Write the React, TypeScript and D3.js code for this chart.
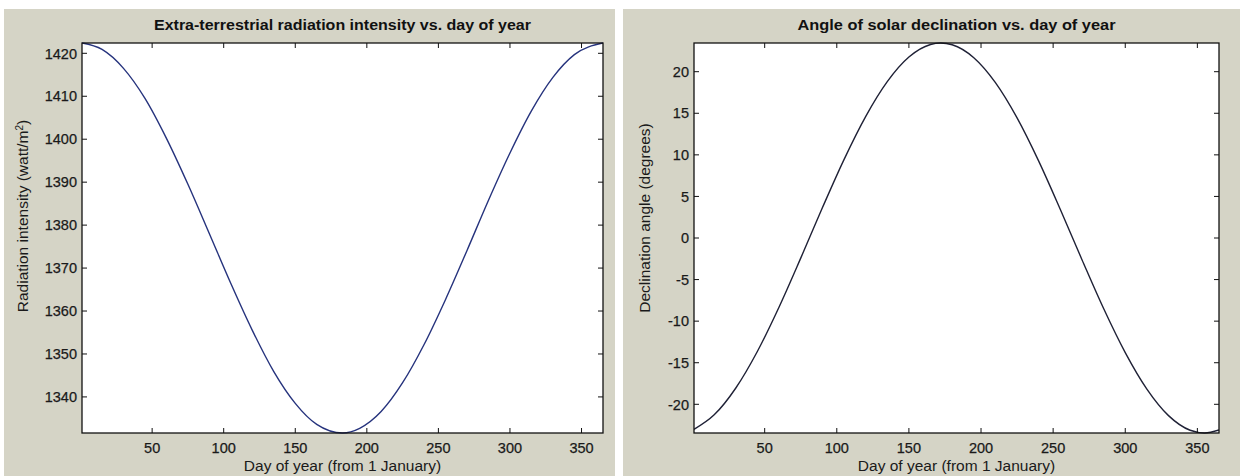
import React from "react";
import * as d3 from "d3";

// Day-of-year samples and the values
const radDays = [1, 15, 30, 45, 60, 75, 90, 105, 120, 135, 150, 165, 183, 195, 210, 225, 240, 255, 270, 285, 300, 315, 330, 345, 365];
const radiation = [1422.4, 1420.9, 1416.5, 1409.5, 1400.2, 1389.5, 1378.0, 1366.4, 1355.5, 1345.9, 1338.5, 1333.6, 1331.6, 1332.7, 1336.6, 1343.3, 1352.2, 1362.7, 1374.1, 1385.8, 1396.8, 1406.6, 1414.4, 1419.7, 1422.4];

const declDays = [1, 15, 30, 45, 60, 75, 90, 105, 120, 135, 150, 165, 172, 180, 195, 210, 225, 240, 255, 270, 285, 300, 315, 330, 345, 355, 365];
const declination = [-23.01, -21.27, -18.04, -13.62, -8.29, -2.42, 3.63, 9.43, 14.6, 18.8, 21.76, 23.27, 23.45, 23.24, 21.68, 18.68, 14.44, 9.24, 3.42, -2.61, -8.48, -13.78, -18.17, -21.36, -23.12, -23.45, -23.09];

const dayTicks = [50, 100, 150, 200, 250, 300, 350];
const radTicks = [1340, 1350, 1360, 1370, 1380, 1390, 1400, 1410, 1420];
const declTicks = [-20, -15, -10, -5, 0, 5, 10, 15, 20];

const FONT = "'Liberation Sans', Arial, Helvetica, sans-serif";
const BG = "#d5d4c6";
const INK = "#1a1a1a";

type PanelProps = {
  bgX: number;
  bgW: number;
  left: number;
  right: number;
  top: number;
  bottom: number;
  title: string;
  titleLen: number;
  ylabel: React.ReactNode;
  ylabelX: number;
  ylabelY: number;
  xs: number[];
  ys: number[];
  yTicks: number[];
  color: string;
};

function Panel(p: PanelProps) {
  const x = d3.scaleLinear().domain([1, 365]).range([p.left, p.right]);
  const y = d3
    .scaleLinear()
    .domain(d3.extent(p.ys) as [number, number])
    .range([p.bottom, p.top]);
  const pts = p.xs.map((d, i) => [d, p.ys[i]] as [number, number]);
  const line = d3
    .line<[number, number]>()
    .x((d) => x(d[0]))
    .y((d) => y(d[1]))
    .curve(d3.curveMonotoneX);
  const tl = 5;
  const cx = (p.left + p.right) / 2;
  return (
    <g>
      <rect x={p.bgX} y={9} width={p.bgW} height={467} fill={BG} />
      <rect x={p.left} y={p.top} width={p.right - p.left} height={p.bottom - p.top} fill="#ffffff" />
      <text
        x={cx}
        y={30}
        textAnchor="middle"
        fontFamily={FONT}
        fontWeight="bold"
        fontSize={14}
        textLength={p.titleLen}
        lengthAdjust="spacingAndGlyphs"
        fill="#111"
      >
        {p.title}
      </text>
      <clipPath id={`clip-${p.left}`}>
        <rect x={p.left} y={p.top - 1} width={p.right - p.left} height={p.bottom - p.top + 2} />
      </clipPath>
      <path d={line(pts) || ""} fill="none" stroke={p.color} strokeWidth={1.4} clipPath={`url(#clip-${p.left})`} />
      {dayTicks.map((t) => (
        <g key={`x${t}`}>
          <line x1={x(t)} x2={x(t)} y1={p.bottom} y2={p.bottom - tl} stroke="#111" />
          <line x1={x(t)} x2={x(t)} y1={p.top} y2={p.top + tl} stroke="#111" />
          <text x={x(t)} y={453} textAnchor="middle" fontFamily={FONT} fontSize={14.5} fill={INK} stroke={INK} strokeWidth={0.25}>
            {t}
          </text>
        </g>
      ))}
      {p.yTicks.map((t) => (
        <g key={`y${t}`}>
          <line x1={p.left} x2={p.left + tl} y1={y(t)} y2={y(t)} stroke="#111" />
          <line x1={p.right} x2={p.right - tl} y1={y(t)} y2={y(t)} stroke="#111" />
          <text
            x={p.left - 5}
            y={y(t)}
            dy="0.36em"
            textAnchor="end"
            fontFamily={FONT}
            fontSize={14.5}
            fill={INK}
            stroke={INK}
            strokeWidth={0.25}
          >
            {t}
          </text>
        </g>
      ))}
      <rect
        x={p.left}
        y={p.top}
        width={p.right - p.left}
        height={p.bottom - p.top}
        fill="none"
        stroke="#111"
        strokeWidth={1.3}
      />
      <text x={cx} y={471} textAnchor="middle" fontFamily={FONT} fontSize={15.5} fill={INK}>
        Day of year (from 1 January)
      </text>
      <text
        transform={`translate(${p.ylabelX},${p.ylabelY}) rotate(-90)`}
        textAnchor="middle"
        fontFamily={FONT}
        fontSize={15.5}
        fill={INK}
      >
        {p.ylabel}
      </text>
    </g>
  );
}

export default function App() {
  return (
    <svg
      width={1244}
      height={476}
      style={{ position: "absolute", left: 0, top: 0, display: "block" }}
    >
      <rect width={1244} height={476} fill="#ffffff" />
      <Panel
        bgX={4}
        bgW={611}
        left={82}
        right={603}
        top={43}
        bottom={433}
        title="Extra-terrestrial radiation intensity vs. day of year"
        titleLen={377}
        ylabel={
          <>
            Radiation intensity (watt/m
            <tspan baselineShift="super" fontSize={10}>
              2
            </tspan>
            )
          </>
        }
        ylabelX={28}
        ylabelY={216}
        xs={radDays}
        ys={radiation}
        yTicks={radTicks}
        color="#26337d"
      />
      <Panel
        bgX={623}
        bgW={617}
        left={694}
        right={1219}
        top={43}
        bottom={433}
        title="Angle of solar declination vs. day of year"
        titleLen={318}
        ylabel="Declination angle (degrees)"
        ylabelX={650}
        ylabelY={218}
        xs={declDays}
        ys={declination}
        yTicks={declTicks}
        color="#1f2136"
      />
    </svg>
  );
}
